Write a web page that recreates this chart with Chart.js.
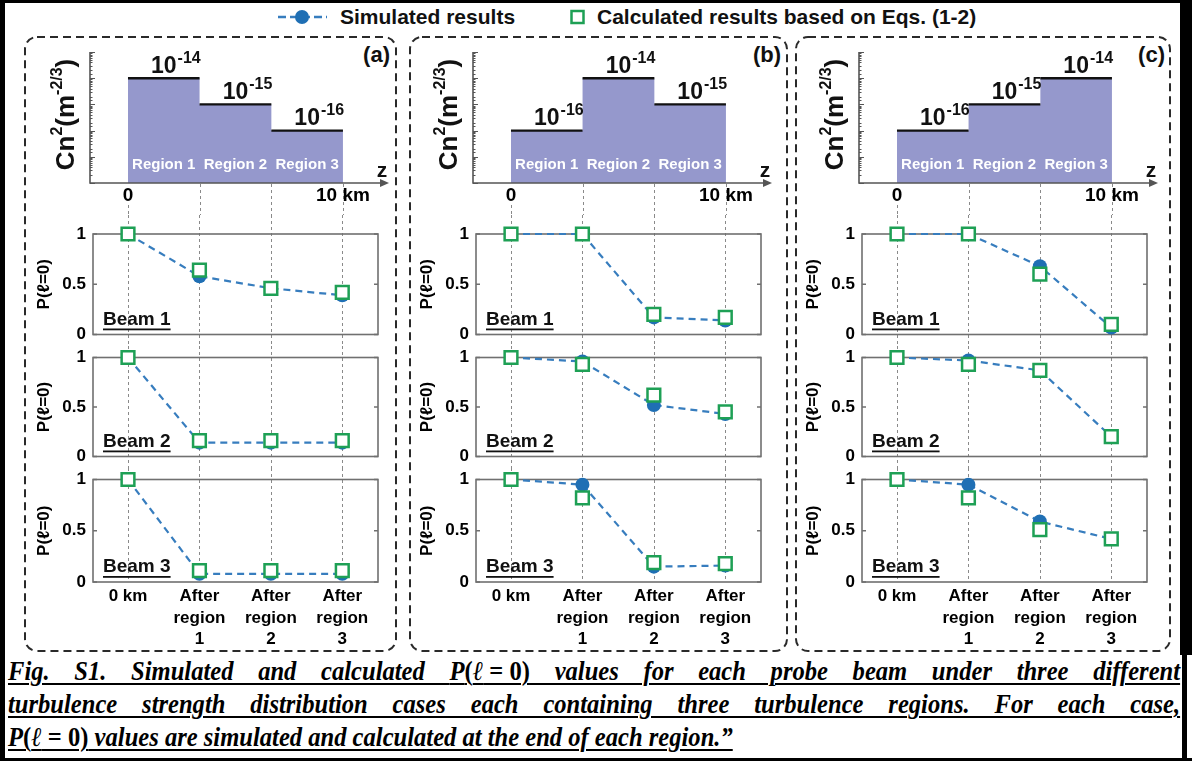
<!DOCTYPE html>
<html><head><meta charset="utf-8">
<script src="https://cdn.jsdelivr.net/npm/chart.js@4.4.0/dist/chart.umd.min.js"></script>
<style>
html,body{margin:0;padding:0;background:#fff;}
#root{position:relative;width:1192px;height:761px;overflow:hidden;background:#fff;font-family:"Liberation Sans",Arial,sans-serif;}
canvas{position:absolute;}
.abs{position:absolute;white-space:nowrap;}
.leg{font-weight:bold;font-size:21px;line-height:24px;color:#111;top:5px;}
.tag{font-weight:bold;font-size:22px;line-height:24px;color:#111;top:43px;}
.cap{position:absolute;left:8px;width:1288px;transform:scaleX(0.91);transform-origin:0 0;font-family:"Liberation Serif","Times New Roman",serif;font-weight:bold;font-style:italic;font-size:27px;line-height:33px;text-decoration:underline;text-decoration-thickness:2px;text-underline-offset:3px;color:#000;white-space:nowrap;}
.cap.j{text-align:justify;text-align-last:justify;white-space:normal;}
.up{font-style:normal;}
.m{display:inline-block;white-space:nowrap;text-decoration:underline;text-decoration-thickness:2px;text-underline-offset:3px;}
</style></head><body><div id="root">
<div class="abs" style="left:0;top:0;width:1192px;height:3px;background:#000"></div>
<div class="abs" style="left:0;top:758px;width:1192px;height:3px;background:#000"></div>
<div class="abs" style="left:0;top:0;width:5px;height:761px;background:#000"></div>
<div class="abs" style="left:1180px;top:0;width:12px;height:655px;background:#000"></div>
<div class="abs" style="left:1182px;top:655px;width:5px;height:106px;background:#000"></div>
<svg class="abs" style="left:0;top:0" width="1192" height="761">
 <g fill="none" stroke="#2a2a2a" stroke-width="2" stroke-dasharray="8 5">
  <rect x="25" y="37" width="371" height="614" rx="12" ry="12"/>
  <rect x="410" y="37" width="377" height="614" rx="12" ry="12"/>
  <rect x="796" y="37" width="374" height="614" rx="12" ry="12"/>
 </g>
 <line x1="278" y1="17" x2="327" y2="17" stroke="rgb(55,125,190)" stroke-width="2.5" stroke-dasharray="8 4"/>
 <circle cx="302" cy="17" r="7" fill="rgb(31,111,180)"/>
 <rect x="571.5" y="11" width="12" height="12" fill="#fff" stroke="rgb(30,160,85)" stroke-width="2.5"/>
</svg>
<div id="leg1" class="abs leg" style="left:340px"></div>
<div id="leg2" class="abs leg" style="left:597px"></div>
<div id="tag0" class="abs tag" style="right:802px"></div>
<div id="tag1" class="abs tag" style="right:411px"></div>
<div id="tag2" class="abs tag" style="right:27px"></div>
<div class="cap j" style="top:655px">Fig. S1. Simulated and calculated <span class="m">P<span class="up">(</span>ℓ<span class="up">&#8197;=&#8197;0)</span></span> values for each probe beam under three different</div>
<div class="cap j" style="top:688px">turbulence strength distribution cases each containing three turbulence regions. For each case,</div>
<div class="cap" style="top:721px"><span class="m">P<span class="up">(</span>ℓ<span class="up">&#8197;=&#8197;0)</span></span> values are simulated and calculated at the end of each region.”</div>
</div>
<script>
// ---------- data ----------
const categories = [['0 km'], ['After','region','1'], ['After','region','2'], ['After','region','3']];
const categoryIndex = [0, 1, 2, 3];
const yTickValues = [0, 0.5, 1];
const zEdgesKm = [0, 3.33, 6.67, 10];
const zTickValues = [0, 10];
const zTickLabels = ['0', '10 km'];
const regionNames = ['Region 1', 'Region 2', 'Region 3'];
const beamNames = ['Beam 1', 'Beam 2', 'Beam 3'];
const panelTags = ['(a)', '(b)', '(c)'];
const seriesNames = ['Simulated results', 'Calculated results based on Eqs. (1-2)'];

const cn2A = [1e-14, 1e-15, 1e-16];
const cn2B = [1e-16, 1e-14, 1e-15];
const cn2C = [1e-16, 1e-15, 1e-14];

const simA1 = [1, 0.58, 0.46, 0.39];  const calcA1 = [1, 0.64, 0.46, 0.42];
const simA2 = [1, 0.14, 0.14, 0.14];  const calcA2 = [1, 0.16, 0.16, 0.16];
const simA3 = [1, 0.08, 0.08, 0.08];  const calcA3 = [1, 0.11, 0.11, 0.11];

const simB1 = [1, 1, 0.17, 0.14];     const calcB1 = [1, 1, 0.20, 0.17];
const simB2 = [1, 0.96, 0.52, 0.43];  const calcB2 = [1, 0.93, 0.62, 0.45];
const simB3 = [1, 0.95, 0.15, 0.16];  const calcB3 = [1, 0.82, 0.19, 0.18];

const simC1 = [1, 1, 0.68, 0.07];     const calcC1 = [1, 1, 0.60, 0.10];
const simC2 = [1, 0.97, 0.87, 0.20];  const calcC2 = [1, 0.93, 0.87, 0.20];
const simC3 = [1, 0.95, 0.59, 0.42];  const calcC3 = [1, 0.82, 0.51, 0.42];

// ---------- styles ----------
const FONT = '"Liberation Sans", Arial, sans-serif';
const BLUE = 'rgb(31,111,180)';
const BLUE_LINE = 'rgb(55,125,190)';
const GREEN = 'rgb(30,160,85)';
const FILL = 'rgb(149,152,204)';
const AXIS = '#555';
const panelOffsets = [0, 383, 769];

document.getElementById('leg1').textContent = seriesNames[0];
document.getElementById('leg2').textContent = seriesNames[1];
panelTags.forEach((t, i) => document.getElementById('tag' + i).textContent = t);

const root = document.getElementById('root');
function makeCanvas(left, top, w, h) {
  const c = document.createElement('canvas');
  c.width = w; c.height = h;
  c.style.left = left + 'px'; c.style.top = top + 'px';
  c.style.width = w + 'px'; c.style.height = h + 'px';
  root.appendChild(c);
  return c;
}

// ---------- Cn2 chart ----------
function cnDeco(levels) {
  return {
    id: 'cnDeco',
    beforeDraw(chart) {
      const {ctx, chartArea: a, scales: {x}} = chart;
      ctx.save();
      ctx.strokeStyle = '#8a8a8a'; ctx.lineWidth = 1; ctx.setLineDash([3, 3]);
      zEdgesKm.forEach(z => {
        const px = Math.round(x.getPixelForValue(z)) + 0.5;
        ctx.beginPath();
        ctx.moveTo(px, a.bottom + (z === zTickValues[0] ? 22 : 1));
        ctx.lineTo(px, chart.height);
        ctx.stroke();
      });
      ctx.restore();
    },
    afterDatasetsDraw(chart) {
      const {ctx, chartArea: a, scales: {x, y}} = chart;
      ctx.save();
      ctx.strokeStyle = AXIS; ctx.fillStyle = AXIS; ctx.lineWidth = 1.6;
      ctx.beginPath();
      ctx.moveTo(a.left, a.top); ctx.lineTo(a.left, a.bottom); ctx.lineTo(a.right - 4, a.bottom);
      ctx.stroke();
      ctx.beginPath();
      ctx.moveTo(a.right + 2, a.bottom); ctx.lineTo(a.right - 7, a.bottom - 4); ctx.lineTo(a.right - 7, a.bottom + 4); ctx.closePath();
      ctx.fill();
      ctx.lineWidth = 1;
      y.ticks.forEach(t => {
        const lg = Math.log10(t.value);
        const major = Math.abs(lg - Math.round(lg)) < 1e-6;
        const py = Math.round(y.getPixelForValue(t.value)) + 0.5;
        ctx.beginPath(); ctx.moveTo(a.left, py); ctx.lineTo(a.left + (major ? 5 : 2.5), py); ctx.stroke();
      });
      levels.forEach((v, i) => {
        const x0 = x.getPixelForValue(zEdgesKm[i]), x1 = x.getPixelForValue(zEdgesKm[i + 1]);
        const mid = (x0 + x1) / 2;
        ctx.fillStyle = '#fff'; ctx.textAlign = 'center'; ctx.textBaseline = 'middle';
        ctx.font = 'bold 15px ' + FONT;
        ctx.fillText(regionNames[i], mid, a.bottom - 18);
        const py = y.getPixelForValue(v);
        ctx.fillStyle = '#111';
        ctx.font = 'bold 23px ' + FONT;
        ctx.fillText('10', mid, py - 12);
        const w = ctx.measureText('10').width;
        ctx.font = 'bold 16px ' + FONT; ctx.textAlign = 'left';
        ctx.fillText(String(Math.round(Math.log10(v))), mid + w / 2 + 1, py - 20);
      });
      ctx.fillStyle = '#111'; ctx.font = 'bold 21px ' + FONT; ctx.textAlign = 'center'; ctx.textBaseline = 'middle';
      ctx.fillText('z', a.right - 5, a.bottom - 12);
      const parts = [['Cn', 26, 0], ['2', 16, -9], ['(m', 26, 0], ['-2/3', 16, -9], [')', 26, 0]];
      let total = 0;
      parts.forEach(p => { ctx.font = 'bold ' + p[1] + 'px ' + FONT; p.push(ctx.measureText(p[0]).width); total += p[3]; });
      ctx.translate(a.left - 23, (a.top + a.bottom) / 2 - 3);
      ctx.rotate(-Math.PI / 2);
      let cx = -total / 2;
      ctx.textAlign = 'left'; ctx.textBaseline = 'middle';
      parts.forEach(p => { ctx.font = 'bold ' + p[1] + 'px ' + FONT; ctx.fillText(p[0], cx, p[2]); cx += p[3]; });
      ctx.restore();
    }
  };
}

function cnChart(off, levels) {
  const canvas = makeCanvas(off + 28, 40, 362, 175);
  const fillData = zEdgesKm.map((z, i) => ({x: z, y: levels[Math.min(i, levels.length - 1)]}));
  const segs = levels.map((v, i) => ({
    data: [{x: zEdgesKm[i], y: v}, {x: zEdgesKm[i + 1], y: v}],
    borderColor: '#111', borderWidth: 2.4, pointRadius: 0, fill: false, clip: false, order: 0
  }));
  new Chart(canvas, {
    type: 'line',
    data: {datasets: [...segs, {
      data: fillData, stepped: 'before', fill: 'start', backgroundColor: FILL,
      borderWidth: 0, borderColor: 'rgba(0,0,0,0)', pointRadius: 0, order: 1
    }]},
    options: {
      responsive: false, animation: false, devicePixelRatio: 1,
      layout: {padding: {left: 0, right: 3, top: 12, bottom: 0}},
      plugins: {legend: {display: false}, tooltip: {enabled: false}},
      scales: {
        x: {
          type: 'linear', min: -1.767, max: 12.05,
          afterBuildTicks: s => { s.ticks = zTickValues.map(v => ({value: v})); },
          afterFit: s => { s.height = 32; s.paddingLeft = 0; s.paddingRight = 0; },
          grid: {display: false, drawTicks: false}, border: {display: false},
          ticks: {padding: 1, autoSkip: false, maxRotation: 0, color: '#000',
            font: {family: FONT, weight: 'bold', size: 19},
            callback: v => zTickLabels[zTickValues.indexOf(v)]}
        },
        y: {
          type: 'logarithmic', min: 1e-18, max: 1e-13,
          afterFit: s => { s.width = 62; s.paddingTop = 0; s.paddingBottom = 0; },
          grid: {display: false, drawTicks: false}, border: {display: false},
          ticks: {display: false}
        }
      }
    },
    plugins: [cnDeco(levels)]
  });
}

// ---------- beam charts ----------
function beamDeco(name, last) {
  return {
    id: 'beamDeco',
    beforeDatasetsDraw(chart) {
      const {ctx, chartArea: a, scales: {x, y}} = chart;
      ctx.save();
      ctx.strokeStyle = '#8a8a8a'; ctx.lineWidth = 1; ctx.setLineDash([3, 3]);
      categoryIndex.forEach(i => {
        const px = Math.round(x.getPixelForValue(i)) + 0.5;
        ctx.beginPath(); ctx.moveTo(px, 0); ctx.lineTo(px, last ? a.bottom : chart.height); ctx.stroke();
      });
      ctx.setLineDash([]);
      ctx.strokeStyle = '#707070'; ctx.lineWidth = 1.6;
      ctx.strokeRect(a.left, a.top, a.right - a.left, a.bottom - a.top);
      yTickValues.forEach(v => {
        const py = y.getPixelForValue(v);
        ctx.beginPath();
        ctx.moveTo(a.left, py); ctx.lineTo(a.left + 4, py);
        ctx.moveTo(a.right, py); ctx.lineTo(a.right - 4, py);
        ctx.stroke();
      });
      ctx.font = 'bold 19px ' + FONT; ctx.fillStyle = '#111';
      ctx.textAlign = 'left'; ctx.textBaseline = 'middle';
      const tx = a.left + 10, ty = a.bottom - 15;
      ctx.fillText(name, tx, ty);
      const w = ctx.measureText(name).width;
      ctx.fillRect(tx, ty + 9, w, 1.8);
      ctx.restore();
    }
  };
}

function beamChart(off, row, sim, calc) {
  const tops = [215, 346, 468], heights = [131, 122, 180], padTop = [19, 9, 9], xH = [9, 8, 66];
  const last = row === 2;
  const canvas = makeCanvas(off + 28, tops[row], 362, heights[row]);
  new Chart(canvas, {
    type: 'line',
    data: {datasets: [
      {label: seriesNames[1], data: calc.map((v, i) => ({x: categoryIndex[i], y: v})),
       showLine: false, pointStyle: 'rect', pointRadius: 9, pointBorderWidth: 2.5,
       pointBorderColor: GREEN, pointBackgroundColor: '#fff', clip: false, order: 0},
      {label: seriesNames[0], data: sim.map((v, i) => ({x: categoryIndex[i], y: v})),
       borderColor: BLUE_LINE, borderWidth: 2.2, borderDash: [7, 5], pointStyle: 'circle',
       pointRadius: 7, pointBorderWidth: 0, pointBackgroundColor: BLUE, clip: false, order: 1}
    ]},
    options: {
      responsive: false, animation: false, devicePixelRatio: 1,
      layout: {padding: {left: 0, right: 12, top: padTop[row], bottom: 0}},
      plugins: {legend: {display: false}, tooltip: {enabled: false}},
      scales: {
        x: {
          type: 'linear', min: -0.49, max: 3.5,
          afterBuildTicks: s => { s.ticks = categoryIndex.map(v => ({value: v})); },
          afterFit: s => { s.height = xH[row]; s.paddingLeft = 0; s.paddingRight = 0; },
          grid: {display: false, drawTicks: false}, border: {display: false},
          ticks: {display: last, autoSkip: false, maxRotation: 0, padding: 4, color: '#000',
            font: {family: FONT, weight: 'bold', size: 17, lineHeight: 1.25},
            callback: v => categories[v]}
        },
        y: {
          min: 0, max: 1,
          afterBuildTicks: s => { s.ticks = yTickValues.map(v => ({value: v})); },
          afterFit: s => { s.width = 65; s.paddingTop = 0; s.paddingBottom = 0; },
          grid: {display: false, drawTicks: false}, border: {display: false},
          ticks: {padding: 7, color: '#000', font: {family: FONT, weight: 'bold', size: 17},
            callback: v => String(v)},
          title: {display: true, text: 'P(ℓ=0)', color: '#000',
            font: {family: FONT, weight: 'bold', size: 17}, padding: {top: 6, bottom: 0}}
        }
      }
    },
    plugins: [beamDeco(beamNames[row], last)]
  });
}

const panels = [
  {cn: cn2A, sims: [simA1, simA2, simA3], calcs: [calcA1, calcA2, calcA3]},
  {cn: cn2B, sims: [simB1, simB2, simB3], calcs: [calcB1, calcB2, calcB3]},
  {cn: cn2C, sims: [simC1, simC2, simC3], calcs: [calcC1, calcC2, calcC3]}
];
panels.forEach((p, k) => {
  const off = panelOffsets[k];
  cnChart(off, p.cn);
  for (let r = 0; r < 3; r++) beamChart(off, r, p.sims[r], p.calcs[r]);
});
</script>
</body></html>
